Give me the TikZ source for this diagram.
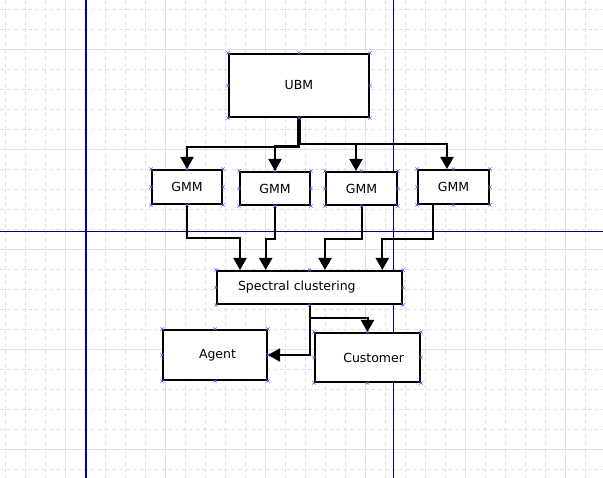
\documentclass[tikz,border=0pt]{standalone}
\usepackage{fontspec}
\setmainfont{DejaVu Sans}
\usetikzlibrary{arrows.meta, positioning}

\definecolor{gridline}{RGB}{218,228,225}
\definecolor{axisblue}{RGB}{0,0,170}
\definecolor{axisnavy}{RGB}{0,0,128}
\definecolor{cptblue}{RGB}{90,90,255}

% little connection crosses on the box border
\newcommand{\cpts}[1]{%
  \foreach \anc in {north west,north,north east,east,south east,south,south west,west}
    \draw[cpt] (#1.\anc) +(-1.6,-1.6) -- +(1.6,1.6) +(-1.6,1.6) -- +(1.6,-1.6);}

\begin{document}
\begin{tikzpicture}[x=1pt, y=-1pt, >={Triangle[width=13pt,length=12pt]}, line join=miter]
    \tikzstyle{block}=[draw, fill=white, line width=2pt, inner sep=0pt, font=\fontsize{12.5}{15}\selectfont]
    \tikzstyle{conn}=[->, line width=2pt]
    \tikzstyle{cpt}=[cptblue, line width=0.6pt]

    \useasboundingbox (0,0) rectangle (603,478);

    % background grid
    \foreach \x in {5,25,...,605}
        \draw[gridline, line width=1pt, dash pattern=on 4pt off 3pt] (\x,0) -- (\x,478);
    \foreach \y in {10,30,...,470}
        \draw[gridline, line width=1pt, dash pattern=on 4pt off 3pt] (0,\y) -- (603,\y);
    \foreach \x in {65,165,...,565}
        \draw[gridline, line width=1pt] (\x,0) -- (\x,478);
    \foreach \y in {50,150,...,450}
        \draw[gridline, line width=1pt] (0,\y) -- (603,\y);
    \draw[axisblue, line width=1.3pt] (86,0) -- (86,478);
    \draw[axisnavy, line width=1pt] (393,0) -- (393,478);
    \draw[axisnavy, line width=1pt] (0,231.5) -- (603,231.5);

    \node[block, minimum width=140pt, minimum height=63pt] (ubm) at (299,85.5) {UBM};
    \node[block, minimum width=70pt, minimum height=34pt] (gmm1) at (187,187) {GMM};
    \node[block, minimum width=70pt, minimum height=33pt] (gmm2) at (275,188.5) {GMM};
    \node[block, minimum width=71pt, minimum height=33pt] (gmm3) at (361.5,188.5) {GMM};
    \node[block, minimum width=71pt, minimum height=34pt] (gmm4) at (453.5,187) {GMM};
    \node[block, minimum width=185pt, minimum height=33pt, text width=143pt, align=left] (spec) at (309.5,287.5) {Spectral clustering};
    \node[block, minimum width=104pt, minimum height=50pt, text width=42pt, align=right] (agent) at (215,355) {Agent};
    \node[block, minimum width=105pt, minimum height=49pt, text width=73pt, align=right] (cust) at (367.5,357.5) {Customer};

    \draw[conn] (ubm.south) -- ++(0,29) -| (gmm1.north);
    \draw[conn] ([xshift=-1pt]ubm.south) -- ++(0,28) -| (gmm2.north);
    \draw[conn] ([xshift=1pt]ubm.south) -- ++(0,26) -| ([xshift=-5.5pt]gmm3.north);
    \draw[conn] ([xshift=1pt]ubm.south) -- ++(0,26) -| ([xshift=-6.5pt]gmm4.north);

    \draw[conn] (gmm1.south) -- ++(0,32.7) -| ([xshift=-69.5pt]spec.north);
    \draw[conn] (gmm2.south) -- ++(0,32.7) -| ([xshift=-43.8pt]spec.north);
    \draw[conn] (gmm3.south) -- ++(0,33) -| ([xshift=15.5pt]spec.north);
    \draw[conn] ([xshift=-20.5pt]gmm4.south) -- ++(0,34) -| ([xshift=72.8pt]spec.north);

    \draw[conn] (spec.south) -- ++(0,13) -| (cust.north);
    \draw[conn] (spec.south) |- (agent.east);

    \foreach \blk in {ubm,gmm1,gmm2,gmm3,gmm4,spec,agent,cust}
        {\cpts{\blk}}
\end{tikzpicture}
\end{document}
